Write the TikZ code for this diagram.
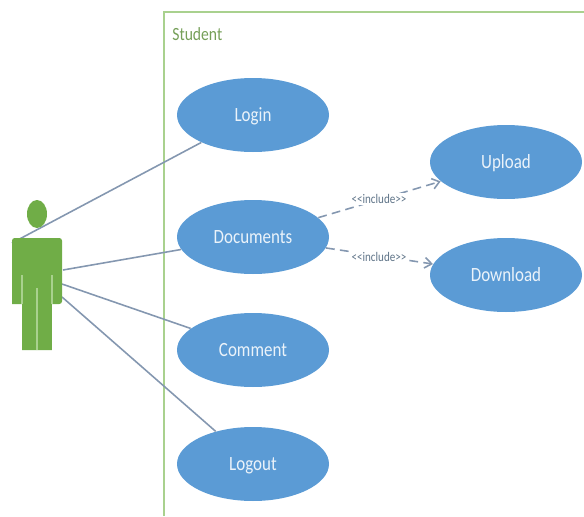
\documentclass[tikz,border=0pt]{standalone}
\usepackage{fontspec}
\setmainfont[FakeStretch=0.84]{Carlito}
\usetikzlibrary{arrows.meta,shapes.geometric}
\definecolor{caseblue}{HTML}{5B9BD5}
\definecolor{actorgreen}{HTML}{70AD47}
\definecolor{framegreen}{HTML}{A9D18E}
\definecolor{linkblue}{HTML}{8497B0}
\definecolor{inclgray}{HTML}{5F7488}
\tikzset{
  usecase/.style={ellipse,fill=caseblue,minimum width=3.04cm,minimum height=1.48cm,inner sep=0pt,text height=7.5pt,text depth=0pt,text=white!88!caseblue,font=\fontsize{11.5}{13}\selectfont},
  assoc/.style={linkblue,line width=0.9pt},
  incl/.style={linkblue,line width=0.9pt,dash pattern=on 5pt off 3pt,-{Straight Barb[length=4pt,width=6pt]}},
  incllabel/.style={fill=white,inner sep=1pt,text=inclgray,font=\fontsize{7.5}{9}\selectfont}
}
\newcommand{\incltext}{{<}{<}include{>}{>}}
\begin{document}
\begin{tikzpicture}
\useasboundingbox (0,0) rectangle (11.68,10.32);

% Boundary
\draw[framegreen,line width=1pt] (3.28,0) -- (3.28,10.08) -- (11.68,10.08);
\node[anchor=west,inner sep=0pt,text=actorgreen!70!gray,font=\fontsize{10.6}{12}\selectfont] (student) at (3.44,9.64) {Student};

% Use cases
\node[usecase] (login) at (5.06,8.02) {Login};
\node[usecase] (documents) at (5.06,5.58) {Documents};
\node[usecase] (comment) at (5.06,3.32) {Comment};
\node[usecase] (logout) at (5.06,1.04) {Logout};
\node[usecase] (upload) at (10.12,7.08) {Upload};
\node[usecase] (download) at (10.12,4.82) {Download};

% Actor ports
\coordinate (portA) at (0.24,5.46);
\coordinate (portB) at (1.26,4.92);
\coordinate (portC) at (1.24,4.64);
\coordinate (portD) at (1.24,4.38);

% Associations
\draw[assoc] (portA) -- (login);
\draw[assoc] (portB) -- (documents);
\draw[assoc] (portC) -- (comment);
\draw[assoc] (portD) -- (logout);

% Includes
\draw[incl] (documents) -- (upload);
\draw[incl] (documents) -- (download);
\node[incllabel] (inclA) at (7.58,6.34) {\incltext};
\node[incllabel] (inclB) at (7.58,5.18) {\incltext};

% Actor
\fill[actorgreen] (0.74,6.04) ellipse (0.2 and 0.28);
\fill[actorgreen,rounded corners=1.5pt] (0.24,4.24) -- (0.24,5.56) -- (1.24,5.56) -- (1.24,4.24) [sharp corners] -- (1.04,4.24) -- (1.04,3.32) -- (0.44,3.32) -- (0.44,4.24) -- cycle;
\draw[framegreen,line width=0.7pt] (0.44,4.24) -- ++(0,0.58);
\draw[framegreen,line width=0.7pt] (1.04,4.24) -- ++(0,0.58);
\draw[framegreen,line width=0.7pt] (0.74,3.32) -- ++(0,1.24);

\end{tikzpicture}
\end{document}
